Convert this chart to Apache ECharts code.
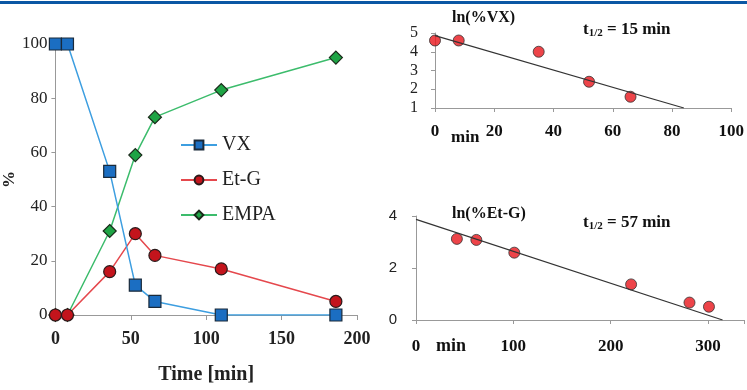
<!DOCTYPE html>
<html><head><meta charset="utf-8">
<script src="https://cdn.jsdelivr.net/npm/echarts@6/dist/echarts.min.js"></script>
<style>html,body{margin:0;padding:0;background:#fff}#c{width:747px;height:390px}</style>
</head><body><div id="c"></div>
<script>
// Main chart data
const timeMin = [0, 8, 36, 53, 66, 110, 186];
const vx   = [100, 100, 53, 11, 5, 0, 0];
const etg  = [0, 0, 16, 30, 22, 17, 5];
const empa = [0, 0, 31, 59, 73, 83, 95];
const mainXTicks = [0, 50, 100, 150, 200];
const mainYTicks = [0, 20, 40, 60, 80, 100];

// Inset 1: ln(%VX)
const vxLnT = [0, 8, 35, 52, 66];
const vxLn  = [4.6, 4.6, 4.0, 2.4, 1.6];
const vxFitT = [0, 84];
const vxFit  = [4.86, 1.0];

// Inset 2: ln(%Et-G)
const etLnT = [42, 62, 101, 221, 281, 301];
const etLn  = [3.12, 3.08, 2.59, 1.37, 0.67, 0.51];
const etFitT = [0, 315];
const etFit  = [3.87, 0];

const zip = (a, b) => a.map((v, i) => [v, b[i]]);
const serif = '"Liberation Serif", "DejaVu Serif", serif';
const richT = { a: { font: 'bold 17px ' + serif, fill: '#111' }, s: { font: 'bold 11px ' + serif, fill: '#111', padding: [7, 0, 0, 0] } };

const chart = echarts.init(document.getElementById('c'));
chart.setOption({
  animation: false,
  backgroundColor: '#fff',
  graphic: [
    { type: 'rect', shape: { x: 0, y: 1, width: 747, height: 3 }, style: { fill: '#0b57a4' } },
    { type: 'text', left: 451, top: 129, style: { text: 'min', font: 'bold 17px ' + serif, fill: '#111' } },
    { type: 'text', left: 436, top: 337, style: { text: 'min', font: 'bold 18px ' + serif, fill: '#111' } },
    { type: 'text', left: 452, top: 10, style: { text: 'ln(%VX)', font: 'bold 16px ' + serif, fill: '#111' } },
    { type: 'text', left: 452, top: 206, style: { text: 'ln(%Et-G)', font: 'bold 16px ' + serif, fill: '#111' } },
    { type: 'text', left: 583, top: 21, style: { text: '{a|t}{s|1/2}{a| = 15 min}', rich: richT } },
    { type: 'text', left: 583, top: 214, style: { text: '{a|t}{s|1/2}{a| = 57 min}', rich: richT } }
  ],
  legend: {
    data: ['VX', 'Et-G', 'EMPA'],
    orient: 'vertical', left: 175, top: 130,
    itemWidth: 36, itemHeight: 11, itemGap: 15,
    textStyle: { fontFamily: serif, fontSize: 20, color: '#222' }
  },
  grid: [
    { left: 54, top: 44, width: 303, height: 281 },
    { left: 435, top: 33, width: 298, height: 75 },
    { left: 416, top: 216, width: 329, height: 104 }
  ],
  xAxis: [
    { gridIndex: 0, type: 'value', min: 0, max: 200, interval: 50,
      name: 'Time [min]', nameLocation: 'middle', nameGap: 50,
      nameTextStyle: { fontFamily: serif, fontWeight: 'bold', fontSize: 20, color: '#222' },
      axisLine: { lineStyle: { color: '#999' } }, axisTick: { show: true, length: 5, lineStyle: { color: '#999' } },
      splitLine: { show: false },
      axisLabel: { fontFamily: serif, fontWeight: 'bold', fontSize: 18, color: '#222', margin: 15 } },
    { gridIndex: 1, type: 'value', min: 0, max: 100, interval: 20,
      axisLine: { lineStyle: { color: '#999' } }, axisTick: { show: true, length: 4, lineStyle: { color: '#999' } },
      splitLine: { show: false },
      axisLabel: { fontFamily: serif, fontWeight: 'bold', fontSize: 17, color: '#111', margin: 15 } },
    { gridIndex: 2, type: 'value', min: 0, max: 337, interval: 100,
      axisLine: { lineStyle: { color: '#999' } }, axisTick: { show: true, length: 4, lineStyle: { color: '#999' } },
      splitLine: { show: false },
      axisLabel: { fontFamily: serif, fontWeight: 'bold', fontSize: 17, color: '#111', margin: 18,
        formatter: v => (v % 100 === 0 ? String(v) : '') } }
  ],
  yAxis: [
    { gridIndex: 0, type: 'value', min: 0, max: 100, interval: 20,
      name: '%', nameLocation: 'middle', nameGap: 30, nameRotate: 90,
      nameTextStyle: { fontFamily: serif, fontWeight: 'bold', fontSize: 17, color: '#222' },
      axisLine: { show: true, lineStyle: { color: '#999' } }, axisTick: { show: true, length: 4, lineStyle: { color: '#999' } },
      splitLine: { show: false },
      axisLabel: { fontFamily: serif, fontSize: 17, color: '#222', margin: 8 } },
    { gridIndex: 1, type: 'value', min: 1, max: 5, interval: 1,
      axisLine: { show: true, lineStyle: { color: '#999' } }, axisTick: { show: true, length: 4, lineStyle: { color: '#999' } },
      splitLine: { show: false },
      axisLabel: { fontFamily: serif, fontSize: 16, color: '#222', margin: 17 } },
    { gridIndex: 2, type: 'value', min: 0, max: 4, interval: 2,
      axisLine: { show: true, lineStyle: { color: '#999' } }, axisTick: { show: true, length: 4, lineStyle: { color: '#999' } },
      splitLine: { show: false },
      axisLabel: { fontFamily: '"Liberation Sans", Arial, sans-serif', fontSize: 15, color: '#222', margin: 19 } }
  ],
  series: [
    { name: 'VX', type: 'line', xAxisIndex: 0, yAxisIndex: 0, data: zip(timeMin, vx),
      symbol: 'rect', symbolSize: 12, z: 5,
      lineStyle: { color: '#3d9ee0', width: 1.5 },
      itemStyle: { color: '#1b6ec2', borderColor: '#1a2a3a', borderWidth: 1.2 } },
    { name: 'Et-G', type: 'line', xAxisIndex: 0, yAxisIndex: 0, data: zip(timeMin, etg),
      symbol: 'circle', symbolSize: 12, z: 4,
      lineStyle: { color: '#e5484d', width: 1.5 },
      itemStyle: { color: '#c3141c', borderColor: '#2a1a1a', borderWidth: 1.2 } },
    { name: 'EMPA', type: 'line', xAxisIndex: 0, yAxisIndex: 0, data: zip(timeMin, empa),
      symbol: 'diamond', symbolSize: 13, z: 3,
      lineStyle: { color: '#3cbc6c', width: 1.5 },
      itemStyle: { color: '#1fa445', borderColor: '#1a2a1a', borderWidth: 1.2 } },
    { type: 'line', xAxisIndex: 1, yAxisIndex: 1, data: zip(vxFitT, vxFit), symbol: 'none',
      lineStyle: { color: '#333', width: 1.2 } },
    { type: 'scatter', xAxisIndex: 1, yAxisIndex: 1, data: zip(vxLnT, vxLn), symbolSize: 11,
      itemStyle: { color: '#e8151b', borderColor: '#333', borderWidth: 1 } },
    { type: 'line', xAxisIndex: 2, yAxisIndex: 2, data: zip(etFitT, etFit), symbol: 'none',
      lineStyle: { color: '#333', width: 1.2 } },
    { type: 'scatter', xAxisIndex: 2, yAxisIndex: 2, data: zip(etLnT, etLn), symbolSize: 11,
      itemStyle: { color: '#e8151b', borderColor: '#333', borderWidth: 1 } }
  ]
});
</script></body></html>
